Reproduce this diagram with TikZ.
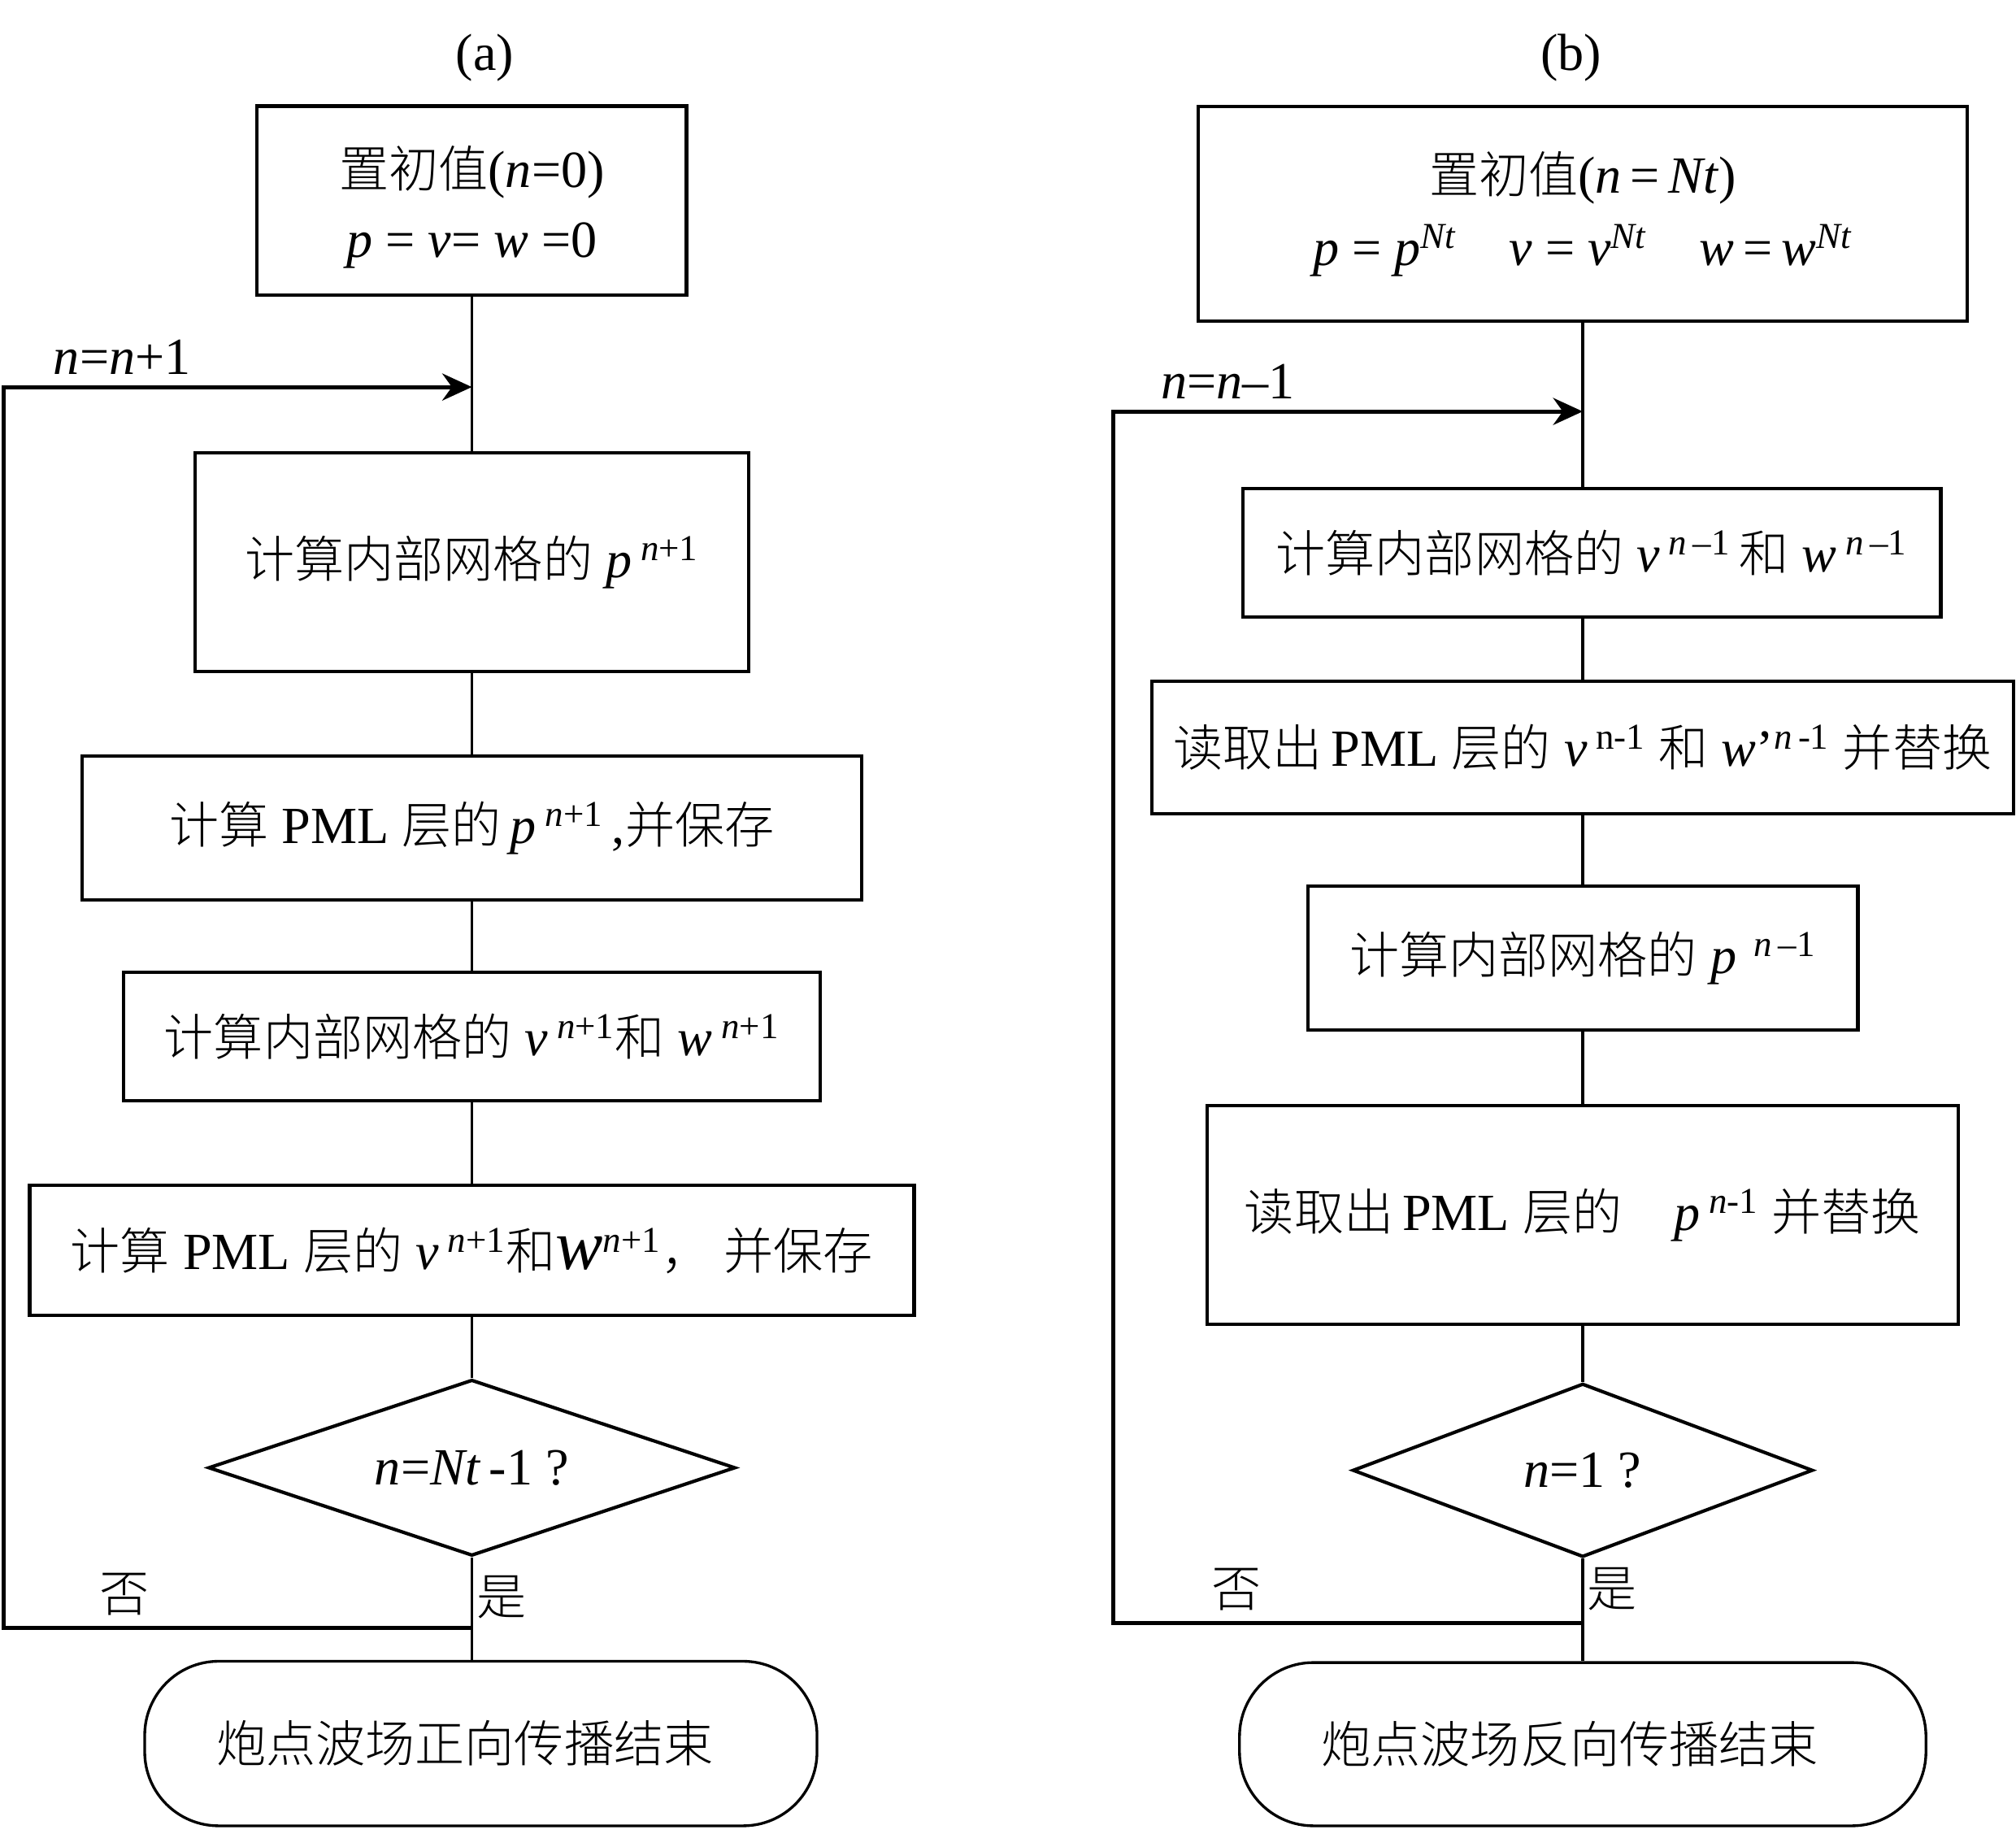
\documentclass[tikz,border=0pt]{standalone}
\usepackage{fontspec}
\setmainfont{Liberation Serif}[Scale=1.05]
\newfontfamily\cjk{Noto Sans CJK SC}[UprightFont={* Light}]
\usetikzlibrary{shapes.geometric,arrows.meta}
\newcommand{\zh}[1]{{\cjk #1}}
\newcommand{\up}[1]{\textsuperscript{#1}}
\tikzset{
  blk/.style={draw=black,line width=1.5pt,inner sep=0pt,align=center,font=\fontsize{22}{28}\selectfont},
  dec/.style={blk,shape=diamond,aspect=3},
  ends/.style={blk,line width=1.2pt,rounded corners=1.15cm},
  lnk/.style={line width=1.3pt},
  back/.style={line width=1.8pt},
  lbl/.style={inner sep=0pt,font=\fontsize{22}{26}\selectfont},
}
\begin{document}
\begin{tikzpicture}[x=0.02cm,y=-0.02cm]
 \useasboundingbox (0,0) rectangle (1568,1425.8);
 % (a) forward
 \node (lbl a) at (377,45) [lbl] {(a)};
 \node (box a1) at (367,156) [blk,minimum width=6.68cm,minimum height=2.94cm] {\rule{0pt}{24pt}\zh{置初值}(\textit{n}=0)\\[3pt]\textit{p} = \textit{v}= \textit{w} =0};
 \node (box a2) at (367,437) [blk,minimum width=8.62cm,minimum height=3.4cm] {\zh{计算内部网格的} \textit{p}\,\up{\textit{n}+1}};
 \node (box a3) at (367,644) [blk,minimum width=12.12cm,minimum height=2.24cm] {\zh{计算} PML \zh{层的}\,\textit{p}\,\up{\textit{n}+1}\,,\zh{并保存}};
 \node (box a4) at (367,806) [blk,minimum width=10.84cm,minimum height=2cm] {\zh{计算内部网格的} \textit{v}\,\up{\textit{n}+1}\zh{和} \textit{w}\,\up{\textit{n}+1}};
 \node (box a5) at (367,972.5) [blk,minimum width=13.76cm,minimum height=2.02cm] {\zh{计算} PML \zh{层的} \textit{v}\,\up{\textit{n}+1}\zh{和}{\fontsize{30}{30}\selectfont\textit{w}}\up{\textit{n}+1}\zh{，} \zh{并保存}};
 \node (dec a) at (367,1141.5) [dec,minimum width=8.2cm,minimum height=2.74cm] {\textit{n}=\textit{Nt}\,-1 ?};
 \node (end a) at (374,1356) [ends,minimum width=10.46cm,minimum height=2.56cm] {\zh{炮点波场正向传播结束}\hspace{0.5cm}};
 \coordinate (join a) at (367,301);
 \coordinate (turn a) at (367,1266);
 \draw[lnk] (box a1) -- (box a2);
 \draw[lnk] (box a2) -- (box a3);
 \draw[lnk] (box a3) -- (box a4);
 \draw[lnk] (box a4) -- (box a5);
 \draw[lnk] (box a5) -- (dec a);
 \draw[lnk] (dec a) -- (dec a |- end a.north);
 \draw[back,-{Stealth[length=4.6mm,width=4.2mm]}] (turn a) -- ++(-364,0) |- (join a);
 \node (lbl inc) at (95,278) [lbl] {\textit{n}=\textit{n}+1};
 \node (lbl no a) at (97,1240) [lbl] {\zh{否}};
 \node (lbl yes a) at (390,1242) [lbl] {\zh{是}};
 % (b) backward
 \node (lbl b) at (1222,45) [lbl] {(b)};
 \node (box b1) at (1231,166.5) [blk,minimum width=11.96cm,minimum height=3.34cm] {\zh{置初值}(\textit{n}\,=\,\textit{Nt})\\[4pt]\textit{p} = \textit{p}\up{\textit{Nt}}\quad \textit{v} = \textit{v}\up{\textit{Nt}}\quad\textit{w}\,=\,\textit{w}\up{\textit{Nt}}};
 \node (box b2) at (1238,430) [blk,minimum width=10.86cm,minimum height=2cm] {\zh{计算内部网格的} \textit{v}\,\up{\textit{n}\,--1}\,\zh{和} \textit{w}\,\up{\textit{n}\,--1}};
 \node (box b3) at (1231,581.5) [blk,minimum width=13.4cm,minimum height=2.06cm] {\zh{读取出}\,PML \zh{层的} \textit{v}\,\up{n-1} \zh{和} \textit{w}'\up{\textit{n}\,-1} \zh{并替换}};
 \node (box b4) at (1231,745) [blk,minimum width=8.56cm,minimum height=2.24cm] {\zh{计算内部网格的} \textit{p}\,\,\up{\textit{n}\,--1}};
 \node (box b5) at (1231,945) [blk,minimum width=11.68cm,minimum height=3.4cm] {\zh{读取出}\,PML \zh{层的}\quad\textit{p}\,\up{\textit{n}-1} \zh{并替换}};
 \node (dec b) at (1231,1143.5) [dec,minimum width=7.16cm,minimum height=2.7cm] {\textit{n}=1 ?};
 \node (end b) at (1231,1356.5) [ends,minimum width=10.68cm,minimum height=2.54cm] {\zh{炮点波场反向传播结束}\hspace{0.4cm}};
 \coordinate (join b) at (1231,320);
 \coordinate (turn b) at (1231,1262);
 \draw[lnk] (box b1) -- (box b1 |- box b2.north);
 \draw[lnk] (box b1 |- box b2.south) -- (box b3);
 \draw[lnk] (box b3) -- (box b4);
 \draw[lnk] (box b4) -- (box b5);
 \draw[lnk] (box b5) -- (dec b);
 \draw[lnk] (dec b) -- (end b);
 \draw[back,-{Stealth[length=4.6mm,width=4.2mm]}] (turn b) -- ++(-365,0) |- (join b);
 \node (lbl dec) at (955,297) [lbl] {\textit{n}=\textit{n}--1};
 \node (lbl no b) at (962,1236) [lbl] {\zh{否}};
 \node (lbl yes b) at (1254,1236) [lbl] {\zh{是}};
\end{tikzpicture}
\end{document}
